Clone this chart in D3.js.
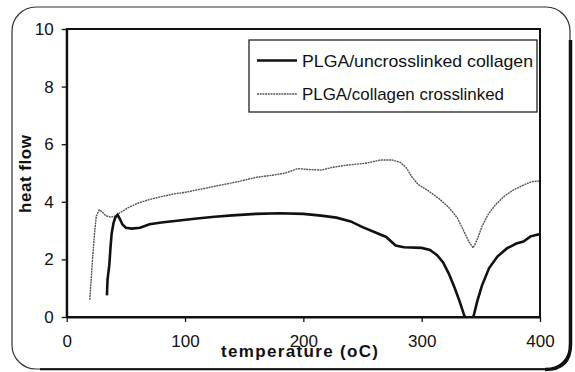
<!DOCTYPE html>
<html>
<head>
<meta charset="utf-8">
<script src="https://cdn.jsdelivr.net/npm/d3@7"></script>
<style>
  body { margin: 0; background: #fff; }
  svg { display: block; }
  text { font-family: "Liberation Sans", Arial, sans-serif; fill: #111; }
</style>
</head>
<body>
<svg width="575" height="372"></svg>
<script>
// DSC curves
const uncrossTemp = [34, 34.5, 36, 37, 38, 39.5, 41, 43, 45, 47, 50, 55, 62, 70, 80, 95, 110, 125, 140, 160,
  180, 200, 215, 228, 240, 250, 260, 270, 278, 285, 300, 307, 313, 318, 323, 328, 332, 336, 340, 344,
  347, 351, 357, 364, 372, 380, 386, 392, 400];
const uncrossFlow = [0.75, 1.3, 1.8, 2.4, 2.9, 3.25, 3.45, 3.55, 3.4, 3.22, 3.1, 3.07, 3.1, 3.22, 3.28, 3.35, 3.42, 3.48, 3.53, 3.58,
  3.6, 3.58, 3.52, 3.45, 3.32, 3.12, 2.95, 2.78, 2.48, 2.42, 2.4, 2.33, 2.15, 1.9, 1.5, 1.0, 0.55, 0.05, -0.4, 0.05,
  0.55, 1.1, 1.7, 2.1, 2.38, 2.55, 2.62, 2.8, 2.88];

const crossTemp = [19.5, 20.5, 22, 23.5, 25, 27.5, 30, 33, 37, 41, 45, 52, 60, 70, 80, 90, 100, 115, 130, 145,
  160, 175, 185, 195, 205, 215, 225, 238, 253, 265, 275, 282, 287, 292, 297, 305, 315, 323, 330, 336,
  340, 343.5, 347, 351, 356, 362, 370, 378, 386, 393, 400];
const crossFlow = [0.6, 1.2, 2.1, 2.9, 3.5, 3.72, 3.65, 3.52, 3.47, 3.5, 3.62, 3.8, 3.95, 4.08, 4.18, 4.27, 4.33, 4.45, 4.58, 4.7,
  4.85, 4.93, 5.0, 5.15, 5.12, 5.1, 5.2, 5.28, 5.34, 5.45, 5.45, 5.37, 5.18, 4.85, 4.6, 4.4, 4.1, 3.8, 3.45, 2.95,
  2.6, 2.4, 2.7, 3.15, 3.55, 3.88, 4.2, 4.42, 4.58, 4.7, 4.72];

const xTicks = [0, 100, 200, 300, 400];
const yTicks = [0, 2, 4, 6, 8, 10];
const legendLabels = ['PLGA/uncrosslinked collagen', 'PLGA/collagen crosslinked'];

const svg = d3.select('svg');

// outer rounded frame, heavier on the right and bottom
svg.append('rect')
    .attr('x', 12).attr('y', 7)
    .attr('width', 558).attr('height', 362)
    .attr('rx', 24).attr('ry', 24)
    .attr('fill', 'none')
    .attr('stroke', '#333')
    .attr('stroke-width', 1.2);
svg.append('path')
    .attr('d', 'M545,369.5 Q570.5,369.5 570.5,344 L570.5,40')
    .attr('fill', 'none')
    .attr('stroke', '#111')
    .attr('stroke-width', 3.5);
svg.append('path')
    .attr('d', 'M40,369.3 L548,369.3')
    .attr('fill', 'none')
    .attr('stroke', '#111')
    .attr('stroke-width', 2);

const x = d3.scaleLinear().domain([0, 400]).range([66.7, 540]);
const y = d3.scaleLinear().domain([0, 10]).range([317, 29]);

// plot frame
svg.append('rect')
    .attr('x', x(0)).attr('y', y(10))
    .attr('width', x(400) - x(0)).attr('height', y(0) - y(10))
    .attr('fill', 'none')
    .attr('stroke', '#111')
    .attr('stroke-width', 2);

const xAxis = svg.append('g')
    .attr('transform', `translate(0,${y(0)})`)
    .call(d3.axisBottom(x).tickValues(xTicks).tickSize(5).tickSizeOuter(0).tickPadding(13));
const yAxis = svg.append('g')
    .attr('transform', `translate(${x(0)},0)`)
    .call(d3.axisLeft(y).tickValues(yTicks).tickSize(5).tickSizeOuter(0).tickPadding(8));

[xAxis, yAxis].forEach(a => {
  a.select('.domain').attr('stroke', '#111').attr('stroke-width', 2);
  a.selectAll('.tick line').attr('stroke', '#111').attr('stroke-width', 1.3);
  a.selectAll('.tick text')
      .style('font-family', '"Liberation Sans", Arial, sans-serif')
      .style('font-size', '17px')
      .attr('fill', '#111');
});

// clip so the dip below zero is cut at the axis
svg.append('clipPath').attr('id', 'plot')
  .append('rect')
    .attr('x', x(0)).attr('y', y(10))
    .attr('width', x(400) - x(0)).attr('height', y(0) - y(10));

const line = d3.line().x(d => x(d[0])).y(d => y(d[1]));

svg.append('path')
    .datum(d3.zip(crossTemp, crossFlow))
    .attr('clip-path', 'url(#plot)')
    .attr('d', line)
    .attr('fill', 'none')
    .attr('stroke', '#555')
    .attr('stroke-width', 1.4)
    .attr('stroke-dasharray', '2,0.7');

svg.append('path')
    .datum(d3.zip(uncrossTemp, uncrossFlow))
    .attr('clip-path', 'url(#plot)')
    .attr('d', line)
    .attr('fill', 'none')
    .attr('stroke', '#111')
    .attr('stroke-width', 2.6);

// legend
const legend = svg.append('g');
legend.append('rect')
    .attr('x', 249).attr('y', 40)
    .attr('width', 288).attr('height', 72)
    .attr('fill', '#fff')
    .attr('stroke', '#222')
    .attr('stroke-width', 1.3);

const legendStyles = [
  { stroke: '#111', width: 2.6, dash: null },
  { stroke: '#555', width: 1.3, dash: '2,0.7' }
];
legendLabels.forEach((lab, i) => {
  const cy = 60.5 + i * 33.5;
  legend.append('line')
      .attr('x1', 257).attr('x2', 297)
      .attr('y1', cy).attr('y2', cy)
      .attr('stroke', legendStyles[i].stroke)
      .attr('stroke-width', legendStyles[i].width)
      .attr('stroke-dasharray', legendStyles[i].dash);
  legend.append('text')
      .attr('x', 302).attr('y', cy)
      .attr('dy', '0.36em')
      .style('font-size', '17px')
      .attr('textLength', i === 0 ? 231 : 202)
      .attr('lengthAdjust', 'spacingAndGlyphs')
      .text(lab);
});

// axis titles
svg.append('text')
    .attr('x', 299.5).attr('y', 351)
    .attr('dy', '0.36em')
    .attr('text-anchor', 'middle')
    .style('font-size', '17px')
    .style('font-weight', 'bold')
    .attr('textLength', 157)
    .attr('lengthAdjust', 'spacing')
    .text('temperature (oC)');

svg.append('text')
    .attr('transform', 'translate(25,174) rotate(-90)')
    .attr('text-anchor', 'middle')
    .attr('dy', '0.36em')
    .style('font-size', '17px')
    .style('font-weight', 'bold')
    .attr('textLength', 78)
    .attr('lengthAdjust', 'spacing')
    .text('heat flow');
</script>
</body>
</html>
